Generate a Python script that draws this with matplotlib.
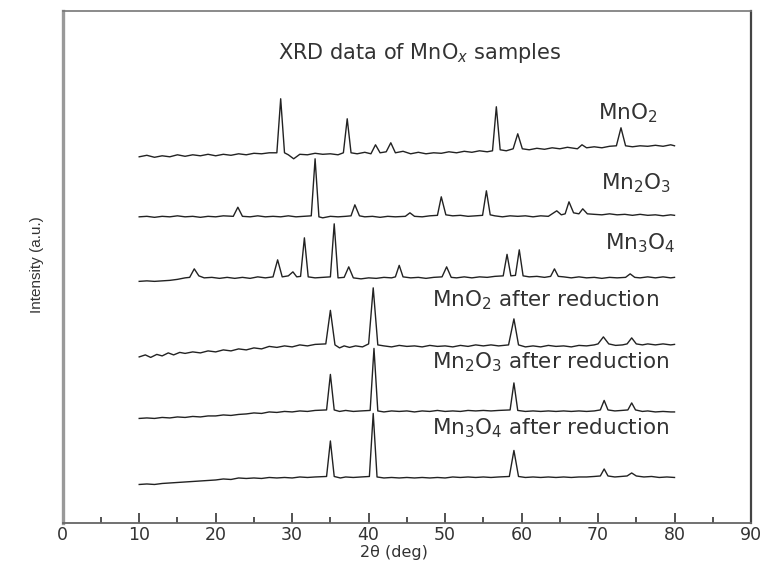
import matplotlib.pyplot as plt

# XRD traces: (2theta, intensity in a.u.), stacked by offset
mno2 = [(10, 366), (11, 367.5), (12, 365.5), (13, 367), (14, 366), (15, 368), (16, 366.5), (17, 368),
        (18, 367), (19, 368.5), (20, 367), (21, 368.5), (22, 367.5), (23, 369), (24, 368), (25, 369.5),
        (26, 369), (27, 370), (28.0, 370), (28.5, 424), (29.0, 370), (29.5, 368), (30.2, 364), (31, 368.5),
        (32, 368), (33, 369.5), (34, 368.5), (35, 369), (36, 368), (36.7, 370), (37.2, 404), (37.7, 370),
        (38.5, 369), (39.5, 370.5), (40.3, 369), (40.9, 378), (41.5, 370), (42.3, 371), (42.9, 380),
        (43.5, 370), (44.5, 371.5), (45.5, 369), (46.5, 370.5), (47.5, 369), (48.5, 370), (49.5, 369.5),
        (50.5, 371), (51.5, 370), (52.5, 371.5), (53.5, 370.5), (54.5, 372), (55.5, 371), (56.2, 372),
        (56.7, 416), (57.2, 373), (58.0, 372), (58.9, 374), (59.5, 389), (60.1, 374), (61, 373),
        (62, 374.5), (63, 373.5), (64, 375), (65, 374), (66, 375.5), (67.3, 374), (67.9, 378), (68.5, 375),
        (69.5, 376), (70.5, 375), (71.5, 376.5), (72.4, 377), (73.0, 395), (73.6, 377), (74.5, 376),
        (75.5, 377), (76.5, 376.5), (77.5, 377.5), (78.5, 376.5), (79.5, 378), (80, 377)]

mn2o3 = [(10, 306), (11, 306.5), (12, 305.5), (13, 306.5), (14, 306), (15, 307), (16, 306), (17, 306.5),
         (18, 305.5), (19, 306.5), (20, 306), (21, 307), (22.3, 306.5), (22.9, 315.6), (23.5, 306.5),
         (24.5, 306), (25.5, 307), (26.5, 306), (27.5, 306.5), (28.5, 306), (29.5, 307), (30.5, 306),
         (31.5, 306.5), (32.5, 307), (33.0, 364), (33.5, 306), (34, 305), (35, 306.5), (36, 306),
         (37, 306.5), (37.7, 307), (38.2, 318), (38.8, 307), (39.5, 306), (40.5, 306.5), (41.5, 305.5),
         (42.5, 306.5), (43.5, 306), (44.8, 306.5), (45.4, 310), (46, 306.5), (47, 306), (48, 307),
         (49.0, 307.5), (49.5, 326), (50.1, 308), (51, 307), (52, 307.5), (53, 306.5), (54, 307),
         (54.9, 307.5), (55.4, 332), (55.9, 308), (56.5, 307), (57.5, 306), (58.5, 307), (59.5, 306.5),
         (60.5, 307), (61.5, 306), (62.5, 307), (63.5, 306.5), (64.6, 312), (65.2, 308), (65.7, 309),
         (66.2, 321), (66.8, 310), (67.5, 309), (68.0, 314), (68.6, 309), (69.5, 308.5), (70.5, 308),
         (71.5, 309), (72.5, 308), (73.5, 308.5), (74.5, 307.5), (75.5, 308.5), (76.5, 307.5), (77.5, 308),
         (78.5, 307), (79.5, 308), (80, 307.5)]

mn3o4 = [(10, 241.5), (11, 242), (12, 241.5), (13, 242), (14, 242.5), (15, 243.5), (16, 245), (16.6, 245.5),
         (17.2, 254), (17.8, 247), (18.5, 245), (19.5, 245.5), (20.5, 244.5), (21.5, 245.5), (22.5, 244.5),
         (23.5, 245.5), (24.5, 244.5), (25.5, 246), (26.5, 245), (27.5, 246), (28.1, 263), (28.7, 246),
         (29.5, 247), (30.1, 251), (30.6, 246), (31.1, 246.5), (31.6, 285), (32.1, 246), (33, 245),
         (34, 245.5), (35.0, 246), (35.5, 299), (36.0, 245), (36.8, 245.5), (37.4, 256), (38.0, 245),
         (39, 244), (40, 245), (41, 244.5), (42, 245.5), (43, 245), (43.5, 246), (44.0, 257.5), (44.5, 246),
         (45.5, 245), (46.5, 245.5), (47.5, 244.5), (48.5, 245.5), (49.6, 246), (50.2, 256), (50.8, 245.5),
         (51.5, 245), (52.5, 246), (53.5, 245), (54.5, 246), (55.5, 245.5), (56.5, 246.5), (57.6, 247),
         (58.1, 268.5), (58.6, 247), (59.2, 247.5), (59.7, 273), (60.2, 247), (61, 246), (62, 246.5),
         (63, 245.5), (63.8, 246.5), (64.3, 254), (64.8, 246.5), (65.5, 246), (66.5, 245), (67.5, 246),
         (68.5, 245), (69.5, 245.5), (70.5, 244.5), (71.5, 245.5), (72.5, 245), (73.6, 245.5), (74.2, 249),
         (74.8, 245.5), (75.5, 245), (76.5, 246), (77.5, 245), (78.5, 246), (79.5, 245), (80, 245.5)]

mno2_red = [(10, 166), (10.8, 168), (11.5, 165.5), (12.3, 168.5), (13, 167), (13.8, 170), (14.5, 168),
            (15.3, 170.5), (16, 169.5), (17, 171), (18, 170), (19, 172), (20, 171), (21, 173), (22, 172),
            (23, 174), (24, 173), (25, 175), (26, 174), (27, 176.5), (28, 175.5), (29, 177), (30, 176),
            (31, 178), (32, 177), (33, 178.5), (34.4, 179), (35.0, 212.5), (35.6, 178), (36.2, 175),
            (36.8, 177), (37.5, 175.5), (38.3, 177), (39.2, 176), (40.0, 179), (40.6, 235), (41.2, 178),
            (42, 177), (43, 176), (44, 177.5), (45, 176.5), (46, 177), (47, 176), (48, 177.5), (49, 176.5),
            (50, 177), (51, 176), (52, 177.5), (53, 176.5), (54, 178), (55, 177), (56, 178), (57, 177),
            (58.3, 178), (59.0, 204), (59.6, 178), (60.5, 176), (61.5, 177), (62.5, 176), (63.5, 177.5),
            (64.5, 176.5), (65.5, 177), (66.5, 176), (67.5, 177.5), (68.5, 177), (69.5, 178), (70.0, 179),
            (70.7, 186), (71.4, 179), (72.3, 177.5), (73.2, 178), (73.8, 179), (74.4, 185), (75.0, 179),
            (75.8, 178), (76.5, 179), (77.5, 178), (78.5, 179), (79.5, 178), (80, 178.5)]

mn2o3_red = [(10, 104.5), (11, 105), (12, 104.5), (13, 105.5), (14, 105), (15, 106), (16, 105.5), (17, 106.5),
             (18, 106), (19, 107), (20, 107), (21, 108), (22, 107.5), (23, 108.5), (24, 109), (25, 110),
             (26, 109.5), (27, 111), (28, 110.5), (29, 111.5), (30, 111), (31, 112), (32, 111.5), (33, 112.5),
             (34.5, 113), (35.0, 148.5), (35.5, 113), (36.2, 111.5), (37, 112.5), (38, 111.5), (39, 112),
             (40.2, 112.5), (40.7, 174.5), (41.2, 112), (42, 111), (43, 112), (44, 111.5), (45, 112), (46, 111),
             (47, 112), (48, 111.5), (49, 112.5), (50, 111.5), (51, 112), (52, 111.5), (53, 112.5), (54, 112),
             (55, 112.5), (56, 112), (57, 112.5), (58.5, 113), (59.0, 140), (59.5, 112.5), (60.5, 111.5),
             (61.5, 112), (62.5, 111.5), (63.5, 112), (64.5, 111.5), (65.5, 112), (66.5, 111.5), (67.5, 112),
             (68.5, 111.5), (69.5, 112), (70.3, 113), (70.8, 122.5), (71.3, 113), (72.2, 112), (73.1, 112.5),
             (73.9, 113), (74.4, 120), (74.9, 113), (75.8, 111.5), (76.5, 112), (77.5, 111), (78.5, 111.5),
             (79.5, 111), (80, 111)]

mn3o4_red = [(10, 38.5), (11, 39), (12, 38.5), (13, 39.5), (14, 40), (15, 40.5), (16, 41), (17, 41.5),
             (18, 42), (19, 42.5), (20, 43), (21, 44), (22, 43.5), (23, 45), (24, 44.5), (25, 45), (26, 44.5),
             (27, 45.5), (28, 45), (29, 45.5), (30, 45), (31, 46), (32, 45.5), (33, 46), (34.5, 46.5),
             (35.0, 82), (35.5, 46.5), (36.3, 45), (37, 46), (38, 45.5), (39, 46), (40.1, 46.5), (40.6, 109.5),
             (41.1, 46), (42, 45), (43, 45.5), (44, 45), (45, 45.5), (46, 45), (47, 45.5), (48, 45), (49, 45.5),
             (50, 45), (51, 46), (52, 45.5), (53, 46), (54, 45.5), (55, 46), (56, 45.5), (57, 46), (58.4, 46.5),
             (59.0, 72.5), (59.6, 46.5), (60.5, 45.5), (61.5, 46), (62.5, 45.5), (63.5, 46), (64.5, 45.5),
             (65.5, 46), (66.5, 45.5), (67.5, 46), (68.5, 46), (69.5, 46.5), (70.3, 47), (70.8, 54), (71.3, 47),
             (72.2, 46), (73, 46.5), (73.8, 47), (74.4, 50), (75, 47), (76, 46), (77, 46.5), (78, 45.5),
             (79, 46), (80, 45.5)]

traces = [mno2, mn2o3, mn3o4, mno2_red, mn2o3_red, mn3o4_red]
labels = [r'MnO$_2$', r'Mn$_2$O$_3$', r'Mn$_3$O$_4$',
          r'MnO$_2$ after reduction', r'Mn$_2$O$_3$ after reduction', r'Mn$_3$O$_4$ after reduction']
label_pos = [(70.0, 410), (70.4, 340), (70.9, 280), (48.3, 223), (48.3, 161), (48.3, 95)]

plt.rcParams['font.family'] = ['DejaVu Sans']
plt.rcParams['mathtext.fontset'] = 'dejavusans'

fig = plt.figure(figsize=(7.66, 5.64), dpi=100)
ax = fig.add_axes([0.0819, 0.0727, 0.8985, 0.9083])

for tr in traces:
    xs = [p[0] for p in tr]
    ys = [p[1] for p in tr]
    ax.plot(xs, ys, color='#222222', lw=1.0)

txt = '#333333'
for lab, (lx, ly) in zip(labels, label_pos):
    ax.text(lx, ly, lab, fontsize=15.5, color=txt, va='center', ha='left')

ax.text(46.7, 470, r'XRD data of MnO$_x$ samples', fontsize=15, color=txt, ha='center', va='center')

ax.set_xlim(0, 90)
ax.set_ylim(0, 512)
ax.set_xticks(range(0, 91, 10))
ax.set_xticks(range(5, 90, 10), minor=True)
ax.set_yticks([])
ax.tick_params(axis='x', which='major', direction='in', length=7, width=1.3, color='#444444',
               labelsize=12.5, labelcolor=txt, pad=2)
ax.tick_params(axis='x', which='minor', direction='in', length=4.5, width=1.3, color='#444444')

ax.spines['left'].set_color('#999999')
ax.spines['left'].set_linewidth(2.4)
ax.spines['top'].set_color('#777777')
ax.spines['top'].set_linewidth(1.2)
ax.spines['right'].set_color('#444444')
ax.spines['right'].set_linewidth(1.6)
ax.spines['bottom'].set_color('#666666')
ax.spines['bottom'].set_linewidth(1.3)

fig.text(0.5137, 1 - 553 / 564, '2\u03b8 (deg)', fontsize=11.5, color=txt, ha='center', va='center')
fig.text(37 / 766, 1 - 265 / 564, 'Intensity (a.u.)', fontsize=11,
         family=['Liberation Sans Narrow', 'Liberation Sans'], color=txt,
         rotation=90, ha='center', va='center')

fig.savefig('out.png', dpi=100)
